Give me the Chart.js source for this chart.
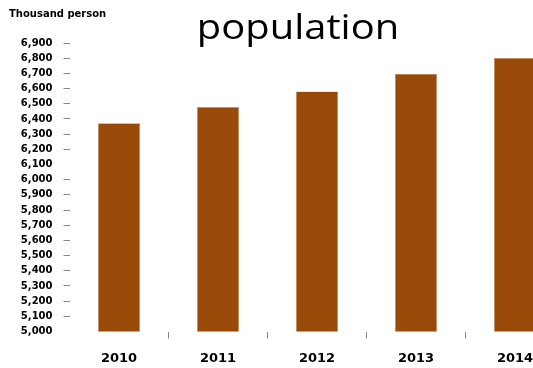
<!DOCTYPE html>
<html>
<head>
<meta charset="utf-8">
<script src="https://cdn.jsdelivr.net/npm/chart.js@4/dist/chart.umd.min.js"></script>
<style>
  html, body { margin: 0; padding: 0; background: #fff; overflow: hidden; }
  #wrap { position: relative; width: 596px; height: 368px; }
</style>
</head>
<body>
<div id="wrap"><canvas id="c" width="596" height="368"></canvas></div>
<script>
const categories = ['2010', '2011', '2012', '2013', '2014'];
const population = [6372, 6478, 6581, 6697, 6801];
const yMin = 5000;
const yMax = 6900;
const yStep = 100;
const titleText = 'population';
const unitText = 'Thousand person';

const textPlugin = {
  id: 'texts',
  afterDraw(chart) {
    const ctx = chart.ctx;
    ctx.save();
    ctx.fillStyle = '#000';
    ctx.textBaseline = 'middle';
    ctx.textAlign = 'left';
    ctx.font = 'bold 10px "DejaVu Sans"';
    ctx.fillText(unitText, 9, 14);
    ctx.restore();

    ctx.save();
    ctx.fillStyle = '#000';
    ctx.font = '35px "Open Sans"';
    ctx.textAlign = 'center';
    ctx.textBaseline = 'alphabetic';
    ctx.translate(chart.width / 2, 39);
    ctx.scale(1.14, 1);
    ctx.fillText(titleText, 0, 0);
    ctx.restore();
  }
};

new Chart(document.getElementById('c'), {
  type: 'bar',
  data: {
    labels: categories,
    datasets: [{
      data: population,
      backgroundColor: '#994A08',
      borderColor: '#C58A5A',
      borderWidth: 0.6,
      barPercentage: 0.424,
      categoryPercentage: 1
    }]
  },
  options: {
    responsive: false,
    animation: false,
    layout: { padding: { top: 43, right: 31.5, bottom: 0, left: 0 } },
    plugins: {
      legend: { display: false },
      title: { display: false },
      tooltip: { enabled: false }
    },
    scales: {
      x: {
        offset: true,
        afterFit: s => { s.height = 36.5; },
        border: { display: false },
        grid: {
          offset: true,
          drawOnChartArea: false,
          tickLength: 7,
          tickWidth: 1,
          tickColor: ctx => (ctx.index === 0 || ctx.index === undefined) ? 'rgba(0,0,0,0)' : '#888'
        },
        ticks: {
          color: '#000',
          padding: 12,
          font: { family: 'DejaVu Sans', size: 13, weight: 'bold' }
        }
      },
      y: {
        min: yMin,
        max: yMax,
        afterFit: s => { s.width = 69.5; },
        border: { display: false },
        grid: {
          drawOnChartArea: false,
          tickLength: 6,
          tickColor: ctx => (ctx.tick && (ctx.tick.value === 5000 || ctx.tick.value === 6100)) ? 'rgba(0,0,0,0)' : '#888'
        },
        ticks: {
          stepSize: yStep,
          color: '#000',
          padding: 11,
          font: { family: 'DejaVu Sans', size: 10, weight: 'bold' },
          callback: v => v.toLocaleString('en-US')
        }
      }
    }
  },
  plugins: [textPlugin]
});
</script>
</body>
</html>
